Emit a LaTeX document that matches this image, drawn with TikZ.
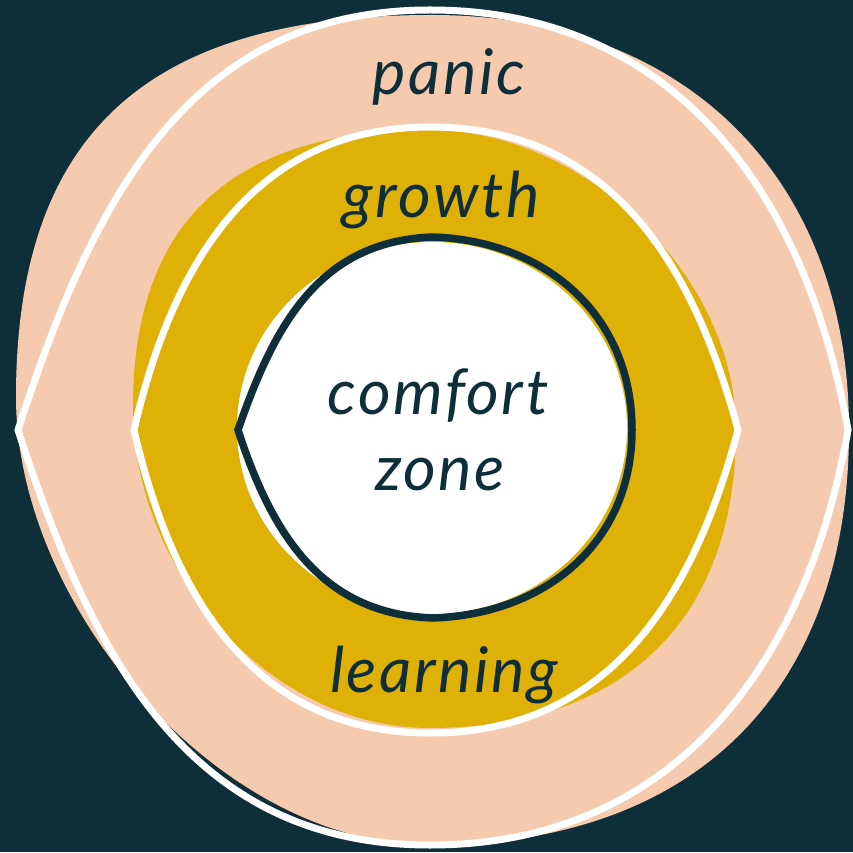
\documentclass[tikz,border=0pt]{standalone}
\usepackage{fontspec}
\setmainfont{Lato}
\definecolor{ink}{HTML}{0E2F3A}
\definecolor{peach}{HTML}{F6CAAE}
\definecolor{gold}{HTML}{DFB006}

\begin{document}
\begin{tikzpicture}[x=1pt, y=1pt,
    ring/.style={draw=white, line width=7pt},
    zonelabel/.style={text=ink, font=\fontsize{63}{75}\selectfont\itshape\addfontfeatures{LetterSpace=4},
        anchor=base, inner sep=0pt}]
    \useasboundingbox (0,0) rectangle (853,852);
    \fill[ink] (0,0) rectangle (853,852);

    % outer band
    \fill[peach] (432,837) to[out=180,in=90,looseness=1.24] (16,455)
        to[out=-90,in=180,looseness=0.88] (430,7)
        to[out=0,in=-90,looseness=1.14] (849,422)
        to[out=90,in=0,looseness=1.1] cycle;
    \draw[ring] (18,422) to[out=72,in=180,looseness=1.05] (430,842)
        to[out=0,in=100,looseness=1.05] (848,422)
        to[out=-100,in=0,looseness=1.05] (430,7)
        to[out=180,in=-72,looseness=1.05] cycle;

    % middle band
    \fill[gold] (430,722) to[out=180,in=90,looseness=1.2] (133,445)
        to[out=-90,in=180,looseness=0.95] (430,124)
        to[out=0,in=-90,looseness=1.15] (736,422)
        to[out=90,in=0,looseness=0.92] cycle;
    \draw[ring] (134,422) to[out=77,in=180,looseness=1.05] (430,725)
        to[out=0,in=105,looseness=1.05] (738,422)
        to[out=-105,in=0,looseness=1.05] (430,119)
        to[out=180,in=-77,looseness=1.05] cycle;

    % inner circle
    \fill[white] (432,424) ellipse [x radius=195, y radius=186];
    \draw[ink, line width=7.5pt] (238,422) to[out=71,in=182,looseness=1.05] (433,615)
        to[out=-2,in=90,looseness=1.05] (632,422)
        to[out=-90,in=2,looseness=1.05] (433,234)
        to[out=178,in=-72,looseness=1.05] cycle;

    \node[zonelabel] (panic) at (449,757) {panic};
    \node[zonelabel] (growth) at (441,634) {growth};
    \node[zonelabel] (comfort) at (438,437) {comfort};
    \node[zonelabel] (zone) at (440,362) {zone};
    \node[zonelabel] (learning) at (444,160) {learning};
\end{tikzpicture}
\end{document}
